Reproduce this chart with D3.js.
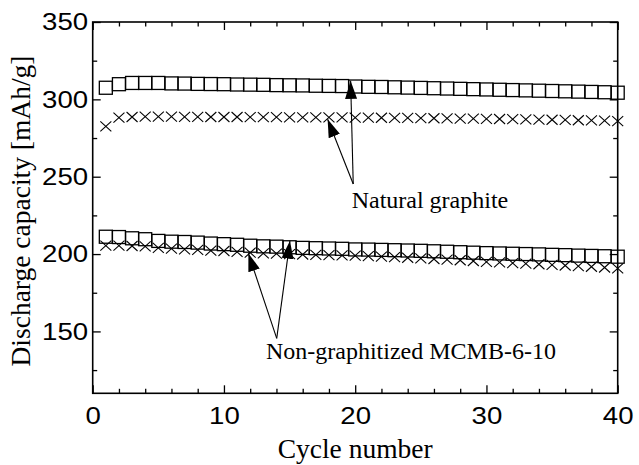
<!DOCTYPE html>
<html>
<head>
<meta charset="utf-8">
<script src="https://cdn.jsdelivr.net/npm/d3@7"></script>
<style>
  body { margin: 0; background: #fff; }
  .tick text { font-family: "Liberation Sans", Arial, sans-serif; }
</style>
</head>
<body>
<div id="chart"></div>
<script>
// cycle numbers
var cycles = [1,2,3,4,5,6,7,8,9,10,11,12,13,14,15,16,17,18,19,20,
              21,22,23,24,25,26,27,28,29,30,31,32,33,34,35,36,37,38,39,40]

// natural graphite, squares and crosses
var naturalSquares = [307.5,309.8,310.6,310.6,310.6,310.3,310.2,310.0,309.9,309.8,
                      309.6,309.5,309.4,309.2,309.1,309.0,308.8,308.7,308.6,308.3,
                      308.1,308.0,307.8,307.6,307.4,307.2,307.0,306.8,306.6,306.4,
                      306.2,306.0,305.8,305.6,305.4,305.2,305.0,304.8,304.6,304.3]
var naturalCrosses = [282.5,288.2,288.6,288.8,288.8,288.8,288.7,288.7,288.6,288.6,
                      288.6,288.5,288.5,288.5,288.4,288.4,288.4,288.3,288.3,288.2,
                      288.2,288.1,288.0,288.0,287.9,287.8,287.7,287.6,287.5,287.4,
                      287.3,287.2,287.0,286.9,286.8,286.7,286.5,286.4,286.2,285.9]

// non-graphitized MCMB-6-10, squares and crosses
var mcmbSquares = [211.2,211.0,210.2,209.6,208.5,208.0,207.8,207.4,206.8,206.4,
                   206.0,205.4,205.0,204.8,204.4,204.0,203.8,203.6,203.4,203.0,
                   202.9,202.7,202.5,202.3,202.1,201.8,201.5,201.2,200.9,200.6,
                   200.4,200.2,200.0,199.8,199.5,199.3,199.0,198.8,198.6,198.3]
var mcmbCrosses = [205.5,205.4,205.2,205.0,204.0,203.5,203.0,202.7,202.2,202.0,
                   201.4,200.9,200.5,200.3,200.0,199.7,199.5,199.3,199.1,199.0,
                   198.7,198.4,198.0,197.6,197.2,196.8,196.4,196.0,195.5,195.0,
                   194.6,194.2,193.8,193.4,193.0,192.6,192.2,191.8,191.3,190.8]

var xTicks = [0,10,20,30,40]
var xMinor = [2,4,6,8,12,14,16,18,22,24,26,28,32,34,36,38]
var yTicks = [150,200,250,300,350]
var yMinor = [125,175,225,275,325]

// annotations: label + arrow tips, in data units
var notes = [
  {label: "Natural graphite", text: [19.73, 229.8], apex: [19.85, 245.3],
   tips: [[17.9, 287.1], [19.65, 312.0]]},
  {label: "Non-graphitized MCMB-6-10", text: [13.2, 132.0], apex: [14.02, 145.5],
   tips: [[11.86, 200.5], [15.03, 208.6]]}
]

var width = 639, height = 465
var margin = {top: 22, right: 21.3, bottom: 71.7, left: 92.7}

var svg = d3.select('#chart').append('svg')
    .attr('width', width)
    .attr('height', height)

var x = d3.scaleLinear().domain([0, 40]).range([margin.left, width - margin.right])
var y = d3.scaleLinear().domain([110, 350]).range([height - margin.bottom, margin.top])

var defs = svg.append('defs')
defs.append('marker')
    .attr('id', 'head')
    .attr('viewBox', '0 0 18 12')
    .attr('refX', 18).attr('refY', 6)
    .attr('markerWidth', 18).attr('markerHeight', 12)
    .attr('markerUnits', 'userSpaceOnUse')
    .attr('orient', 'auto')
    .append('path').attr('d', 'M0,0 L18,6 L0,12 Z').attr('fill', '#000')

var bottomY = height - margin.bottom
var rightX = width - margin.right

function styleAxis(g) {
    g.select('.domain').remove()
    g.selectAll('.tick line').attr('stroke', '#000').attr('stroke-width', 1.3)
    g.selectAll('.tick text').attr('fill', '#000').style('font-size', '24px')
        .attr('transform', 'scale(1.15,1)')
}

// major ticks with labels
svg.append('g').attr('transform', 'translate(0,' + bottomY + ')')
    .call(d3.axisBottom(x).tickValues(xTicks).tickSize(-8).tickSizeOuter(0).tickPadding(14))
    .call(styleAxis)
svg.append('g').attr('transform', 'translate(' + margin.left + ',0)')
    .call(d3.axisLeft(y).tickValues(yTicks).tickSize(-8).tickSizeOuter(0).tickPadding(4))
    .call(styleAxis)
// mirrored ticks
svg.append('g').attr('transform', 'translate(0,' + margin.top + ')')
    .call(d3.axisTop(x).tickValues(xTicks).tickSize(-8).tickSizeOuter(0).tickFormat(''))
    .call(styleAxis)
svg.append('g').attr('transform', 'translate(' + rightX + ',0)')
    .call(d3.axisRight(y).tickValues(yTicks).tickSize(-8).tickSizeOuter(0).tickFormat(''))
    .call(styleAxis)
// minor ticks
svg.append('g').attr('transform', 'translate(0,' + bottomY + ')')
    .call(d3.axisBottom(x).tickValues(xMinor).tickSize(-4.5).tickSizeOuter(0).tickFormat(''))
    .call(styleAxis)
svg.append('g').attr('transform', 'translate(0,' + margin.top + ')')
    .call(d3.axisTop(x).tickValues(xMinor).tickSize(-4.5).tickSizeOuter(0).tickFormat(''))
    .call(styleAxis)
svg.append('g').attr('transform', 'translate(' + margin.left + ',0)')
    .call(d3.axisLeft(y).tickValues(yMinor).tickSize(-4.5).tickSizeOuter(0).tickFormat(''))
    .call(styleAxis)
svg.append('g').attr('transform', 'translate(' + rightX + ',0)')
    .call(d3.axisRight(y).tickValues(yMinor).tickSize(-4.5).tickSizeOuter(0).tickFormat(''))
    .call(styleAxis)

// frame
svg.append('rect')
    .attr('x', margin.left).attr('y', margin.top)
    .attr('width', rightX - margin.left).attr('height', bottomY - margin.top)
    .attr('fill', 'none').attr('stroke', '#000').attr('stroke-width', 1.6)

// series
function drawSquares(vals) {
    svg.append('g').selectAll('rect')
        .data(cycles)
        .enter().append('rect')
        .attr('x', function(d) { return x(d) - 6.5 })
        .attr('y', function(d, i) { return y(vals[i]) - 6.5 })
        .attr('width', 13).attr('height', 13)
        .attr('fill', 'none').attr('stroke', '#000').attr('stroke-width', 1.3)
}
function drawCrosses(vals) {
    svg.append('g').selectAll('path')
        .data(cycles)
        .enter().append('path')
        .attr('transform', function(d, i) { return 'translate(' + x(d) + ',' + y(vals[i]) + ')' })
        .attr('d', 'M-5.5,-5L5.5,5M-5.5,5L5.5,-5')
        .attr('fill', 'none').attr('stroke', '#000').attr('stroke-width', 1.1)
}
drawSquares(naturalSquares)
drawCrosses(naturalCrosses)
drawSquares(mcmbSquares)
drawCrosses(mcmbCrosses)

// annotations
notes.forEach(function(n) {
    n.tips.forEach(function(t) {
        svg.append('line')
            .attr('x1', x(n.apex[0])).attr('y1', y(n.apex[1]))
            .attr('x2', x(t[0])).attr('y2', y(t[1]))
            .attr('stroke', '#000').attr('stroke-width', 1.1)
            .attr('marker-end', 'url(#head)')
    })
    svg.append('text')
        .attr('x', x(n.text[0])).attr('y', y(n.text[1]))
        .style('font-family', '"Liberation Serif", "Times New Roman", serif')
        .style('font-size', '24px')
        .text(n.label)
})

// axis titles
svg.append('text')
    .attr('x', (margin.left + rightX) / 2).attr('y', 457.5)
    .attr('text-anchor', 'middle')
    .style('font-family', '"Liberation Serif", "Times New Roman", serif')
    .style('font-size', '27.5px')
    .text('Cycle number')
svg.append('text')
    .attr('transform', 'translate(30,211) rotate(-90)')
    .attr('text-anchor', 'middle')
    .style('font-family', '"Liberation Serif", "Times New Roman", serif')
    .style('font-size', '27.5px')
    .text('Discharge capacity [mAh/g]')
</script>
</body>
</html>
